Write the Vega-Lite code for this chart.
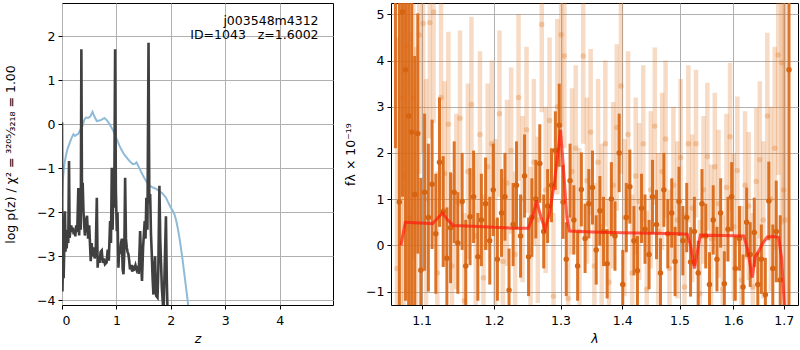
{
  "$schema": "https://vega.github.io/schema/vega-lite/v6.json",
  "padding": {"left": 4, "top": 2, "right": 0, "bottom": 0},
  "background": "white",
  "spacing": 58,
  "bounds": "flush",
  "config": {
    "view": {"stroke": "black", "strokeWidth": 1},
    "axis": {
      "labelFont": "DejaVu Sans", "labelFontSize": 12.5, "labelColor": "black",
      "titleFont": "DejaVu Sans", "titleFontSize": 12.5, "titleFontWeight": "normal", "titleColor": "black",
      "tickColor": "black", "tickSize": 4, "domainColor": "black", "domain": false,
      "gridColor": "#b0b0b0", "gridWidth": 1, "labelPadding": 3
    },
    "axisX": {"labelPadding": 5, "titlePadding": 6}
  },
  "datasets": {
    "pz": [
      {"z": 0.000, "lp": 0.04}, {"z": 0.008, "lp": -3.8}, {"z": 0.018, "lp": -3.1}, {"z": 0.030, "lp": -3.5},
      {"z": 0.045, "lp": -2.6}, {"z": 0.055, "lp": -1.98}, {"z": 0.065, "lp": -2.9}, {"z": 0.075, "lp": -2.4},
      {"z": 0.085, "lp": -2.82}, {"z": 0.100, "lp": -2.5}, {"z": 0.115, "lp": -2.7}, {"z": 0.129, "lp": -0.84},
      {"z": 0.140, "lp": -2.58}, {"z": 0.155, "lp": -2.4}, {"z": 0.170, "lp": -2.3}, {"z": 0.185, "lp": -2.45},
      {"z": 0.200, "lp": -2.35}, {"z": 0.215, "lp": -2.5}, {"z": 0.230, "lp": -2.4}, {"z": 0.245, "lp": -2.55},
      {"z": 0.260, "lp": -2.3}, {"z": 0.280, "lp": -2.45}, {"z": 0.300, "lp": -1.45}, {"z": 0.315, "lp": -2.53},
      {"z": 0.330, "lp": -1.9}, {"z": 0.345, "lp": -2.4}, {"z": 0.356, "lp": 1.70}, {"z": 0.368, "lp": -1.9},
      {"z": 0.380, "lp": -1.33}, {"z": 0.395, "lp": -2.0}, {"z": 0.420, "lp": -2.53}, {"z": 0.440, "lp": -2.2},
      {"z": 0.460, "lp": -2.08}, {"z": 0.480, "lp": -2.6}, {"z": 0.500, "lp": -2.3}, {"z": 0.528, "lp": -3.11},
      {"z": 0.545, "lp": -2.7}, {"z": 0.560, "lp": -3.0}, {"z": 0.577, "lp": -2.8}, {"z": 0.600, "lp": -3.05},
      {"z": 0.620, "lp": -2.9}, {"z": 0.640, "lp": -1.67}, {"z": 0.655, "lp": -3.26}, {"z": 0.670, "lp": -3.0},
      {"z": 0.690, "lp": -3.15}, {"z": 0.710, "lp": -2.9}, {"z": 0.730, "lp": -2.87}, {"z": 0.750, "lp": -3.15},
      {"z": 0.770, "lp": -3.05}, {"z": 0.790, "lp": -3.18}, {"z": 0.820, "lp": -3.14}, {"z": 0.840, "lp": -2.85},
      {"z": 0.860, "lp": -3.1}, {"z": 0.884, "lp": -2.2}, {"z": 0.900, "lp": -2.7}, {"z": 0.915, "lp": -0.99},
      {"z": 0.930, "lp": -2.4}, {"z": 0.945, "lp": -1.3}, {"z": 0.960, "lp": -1.9}, {"z": 0.976, "lp": 1.70},
      {"z": 0.990, "lp": -1.5}, {"z": 1.007, "lp": -2.43}, {"z": 1.020, "lp": -2.0}, {"z": 1.037, "lp": -3.26},
      {"z": 1.052, "lp": -2.8}, {"z": 1.068, "lp": -2.95}, {"z": 1.085, "lp": -2.7}, {"z": 1.100, "lp": -2.6},
      {"z": 1.115, "lp": -3.3}, {"z": 1.130, "lp": -3.41}, {"z": 1.145, "lp": -2.9}, {"z": 1.160, "lp": -1.22},
      {"z": 1.175, "lp": -2.6}, {"z": 1.190, "lp": -2.8}, {"z": 1.205, "lp": -2.9}, {"z": 1.220, "lp": -2.95},
      {"z": 1.235, "lp": -3.1}, {"z": 1.250, "lp": -3.3}, {"z": 1.270, "lp": -3.2}, {"z": 1.290, "lp": -3.35},
      {"z": 1.310, "lp": -3.25}, {"z": 1.330, "lp": -3.28}, {"z": 1.350, "lp": -3.2}, {"z": 1.370, "lp": -3.3},
      {"z": 1.390, "lp": -3.22}, {"z": 1.410, "lp": -3.4}, {"z": 1.436, "lp": -2.43}, {"z": 1.455, "lp": -3.2},
      {"z": 1.470, "lp": -3.56}, {"z": 1.490, "lp": -2.8}, {"z": 1.520, "lp": -2.2}, {"z": 1.535, "lp": -2.6},
      {"z": 1.550, "lp": -1.67}, {"z": 1.570, "lp": -2.4}, {"z": 1.590, "lp": 1.85}, {"z": 1.605, "lp": -1.8},
      {"z": 1.620, "lp": -1.59}, {"z": 1.635, "lp": -2.5}, {"z": 1.650, "lp": -2.95}, {"z": 1.665, "lp": -3.5},
      {"z": 1.680, "lp": -3.87}, {"z": 1.695, "lp": -3.3}, {"z": 1.710, "lp": -3.0}, {"z": 1.730, "lp": -3.9},
      {"z": 1.755, "lp": -3.94}, {"z": 1.770, "lp": -3.3}, {"z": 1.790, "lp": -1.4}, {"z": 1.805, "lp": -2.6},
      {"z": 1.835, "lp": -3.72}, {"z": 1.850, "lp": -4.0}, {"z": 1.865, "lp": -4.3}, {"z": 1.880, "lp": -3.6},
      {"z": 1.910, "lp": -2.09}, {"z": 1.925, "lp": -3.5}, {"z": 1.940, "lp": -4.3}, {"z": 1.960, "lp": -4.5}
    ],
    "chi": [
      {"z": 0.0, "lp": -1.67}, {"z": 0.02, "lp": -1.2}, {"z": 0.045, "lp": -0.9}, {"z": 0.074, "lp": -0.7},
      {"z": 0.105, "lp": -0.55}, {"z": 0.135, "lp": -0.45}, {"z": 0.17, "lp": -0.33}, {"z": 0.21, "lp": -0.23},
      {"z": 0.24, "lp": -0.27}, {"z": 0.27, "lp": -0.24}, {"z": 0.30, "lp": -0.22}, {"z": 0.34, "lp": -0.12},
      {"z": 0.38, "lp": -0.04}, {"z": 0.41, "lp": 0.1}, {"z": 0.44, "lp": 0.15}, {"z": 0.48, "lp": 0.14},
      {"z": 0.52, "lp": 0.17}, {"z": 0.56, "lp": 0.28}, {"z": 0.60, "lp": 0.16}, {"z": 0.64, "lp": 0.07},
      {"z": 0.69, "lp": 0.08}, {"z": 0.73, "lp": 0.1}, {"z": 0.78, "lp": 0.14}, {"z": 0.83, "lp": 0.08},
      {"z": 0.87, "lp": 0.01}, {"z": 0.92, "lp": -0.1}, {"z": 0.96, "lp": -0.2}, {"z": 1.01, "lp": -0.35},
      {"z": 1.06, "lp": -0.5}, {"z": 1.10, "lp": -0.6}, {"z": 1.15, "lp": -0.7}, {"z": 1.20, "lp": -0.78},
      {"z": 1.25, "lp": -0.85}, {"z": 1.30, "lp": -0.91}, {"z": 1.34, "lp": -0.9}, {"z": 1.37, "lp": -0.87},
      {"z": 1.41, "lp": -0.97}, {"z": 1.46, "lp": -1.1}, {"z": 1.51, "lp": -1.22}, {"z": 1.55, "lp": -1.3},
      {"z": 1.60, "lp": -1.39}, {"z": 1.67, "lp": -1.44}, {"z": 1.73, "lp": -1.47}, {"z": 1.79, "lp": -1.52},
      {"z": 1.85, "lp": -1.58}, {"z": 1.91, "lp": -1.67}, {"z": 1.96, "lp": -1.8}, {"z": 2.00, "lp": -1.9},
      {"z": 2.04, "lp": -1.98}, {"z": 2.07, "lp": -2.06}, {"z": 2.10, "lp": -2.2}, {"z": 2.13, "lp": -2.38},
      {"z": 2.16, "lp": -2.6}, {"z": 2.19, "lp": -2.85}, {"z": 2.22, "lp": -3.12}, {"z": 2.25, "lp": -3.42},
      {"z": 2.28, "lp": -3.72}, {"z": 2.31, "lp": -4.02}, {"z": 2.34, "lp": -4.35}
    ],
    "dark": [
      {"lam": 1.066, "f": 6.0, "e": 3.9}, {"lam": 1.071, "f": 0.94, "e": 5.5}, {"lam": 1.075, "f": 5.05, "e": 4.0},
      {"lam": 1.079, "f": 3.8, "e": 5.0}, {"lam": 1.083, "f": 2.8, "e": 4.5}, {"lam": 1.087, "f": 2.45, "e": 3.8},
      {"lam": 1.091, "f": 1.1, "e": 3.0}, {"lam": 1.095, "f": 2.42, "e": 2.6}, {"lam": 1.099, "f": -0.54, "e": 2.0},
      {"lam": 1.104, "f": 1.15, "e": 1.7}, {"lam": 1.109, "f": 0.6, "e": 1.6}, {"lam": 1.114, "f": 1.32, "e": 1.4},
      {"lam": 1.119, "f": 0.25, "e": 1.3}, {"lam": 1.124, "f": 1.8, "e": 1.4}, {"lam": 1.129, "f": 0.73, "e": 1.2},
      {"lam": 1.134, "f": -0.28, "e": 1.1}, {"lam": 1.139, "f": 0.38, "e": 1.2}, {"lam": 1.144, "f": 1.15, "e": 1.1},
      {"lam": 1.149, "f": 0.05, "e": 1.1}, {"lam": 1.155, "f": 0.95, "e": 1.05}, {"lam": 1.160, "f": -0.45, "e": 1.0},
      {"lam": 1.166, "f": 0.62, "e": 1.05}, {"lam": 1.171, "f": 1.05, "e": 1.0}, {"lam": 1.177, "f": -0.25, "e": 0.95},
      {"lam": 1.182, "f": 0.55, "e": 1.0}, {"lam": 1.188, "f": 0.9, "e": 1.0}, {"lam": 1.194, "f": 0.1, "e": 0.95},
      {"lam": 1.199, "f": 1.2, "e": 1.0}, {"lam": 1.205, "f": -0.3, "e": 0.9}, {"lam": 1.211, "f": 0.7, "e": 0.95},
      {"lam": 1.216, "f": 1.05, "e": 0.95}, {"lam": 1.222, "f": -0.97, "e": 0.9}, {"lam": 1.228, "f": 0.45, "e": 0.9},
      {"lam": 1.233, "f": 1.3, "e": 0.95}, {"lam": 1.239, "f": 0.2, "e": 0.9}, {"lam": 1.245, "f": 1.5, "e": 0.9},
      {"lam": 1.251, "f": -0.25, "e": 0.85}, {"lam": 1.256, "f": 0.6, "e": 0.85}, {"lam": 1.262, "f": 1.0, "e": 0.85},
      {"lam": 1.268, "f": 1.77, "e": 0.85}, {"lam": 1.274, "f": 0.3, "e": 0.8}, {"lam": 1.280, "f": 0.85, "e": 0.8},
      {"lam": 1.286, "f": 1.3, "e": 0.8}, {"lam": 1.292, "f": 2.05, "e": 0.85}, {"lam": 1.298, "f": 2.6, "e": 0.9},
      {"lam": 1.304, "f": 0.94, "e": 0.8}, {"lam": 1.309, "f": -0.3, "e": 0.8}, {"lam": 1.315, "f": 1.4, "e": 0.8},
      {"lam": 1.321, "f": 0.55, "e": 0.75}, {"lam": 1.327, "f": -0.45, "e": 0.75}, {"lam": 1.333, "f": 1.21, "e": 0.8},
      {"lam": 1.339, "f": 0.15, "e": 0.75}, {"lam": 1.345, "f": 0.9, "e": 0.75}, {"lam": 1.351, "f": 1.25, "e": 0.8},
      {"lam": 1.357, "f": -0.1, "e": 0.75}, {"lam": 1.363, "f": 0.75, "e": 0.75}, {"lam": 1.369, "f": 0.3, "e": 0.75},
      {"lam": 1.375, "f": -0.4, "e": 0.75}, {"lam": 1.382, "f": 1.0, "e": 0.8}, {"lam": 1.388, "f": 0.2, "e": 0.75},
      {"lam": 1.395, "f": 2.0, "e": 0.85}, {"lam": 1.401, "f": -0.85, "e": 0.75}, {"lam": 1.407, "f": 0.6, "e": 0.75},
      {"lam": 1.413, "f": 1.27, "e": 0.8}, {"lam": 1.420, "f": 0.1, "e": 0.75}, {"lam": 1.426, "f": -0.55, "e": 0.75},
      {"lam": 1.433, "f": 0.8, "e": 0.75}, {"lam": 1.439, "f": 0.35, "e": 0.75}, {"lam": 1.446, "f": -0.2, "e": 0.75},
      {"lam": 1.452, "f": 1.05, "e": 0.8}, {"lam": 1.459, "f": 0.45, "e": 0.75}, {"lam": 1.466, "f": -0.6, "e": 0.75},
      {"lam": 1.472, "f": 1.2, "e": 0.8}, {"lam": 1.479, "f": 0.25, "e": 0.75}, {"lam": 1.486, "f": 0.7, "e": 0.75},
      {"lam": 1.492, "f": -0.35, "e": 0.75}, {"lam": 1.499, "f": 0.95, "e": 0.75}, {"lam": 1.506, "f": 0.1, "e": 0.75},
      {"lam": 1.513, "f": 0.6, "e": 0.75}, {"lam": 1.520, "f": -0.36, "e": 0.75}, {"lam": 1.527, "f": 0.3, "e": 0.75},
      {"lam": 1.534, "f": -0.6, "e": 0.7}, {"lam": 1.541, "f": 0.9, "e": 0.75}, {"lam": 1.548, "f": 0.2, "e": 0.7},
      {"lam": 1.555, "f": -0.85, "e": 0.7}, {"lam": 1.562, "f": 0.55, "e": 0.75}, {"lam": 1.569, "f": -0.3, "e": 0.7},
      {"lam": 1.576, "f": 0.7, "e": 0.75}, {"lam": 1.583, "f": -0.83, "e": 0.7}, {"lam": 1.590, "f": 0.35, "e": 0.7},
      {"lam": 1.597, "f": 1.05, "e": 0.75}, {"lam": 1.604, "f": -0.5, "e": 0.7}, {"lam": 1.612, "f": 0.15, "e": 0.7},
      {"lam": 1.619, "f": -0.9, "e": 0.7}, {"lam": 1.626, "f": 0.5, "e": 0.75}, {"lam": 1.633, "f": -0.2, "e": 0.7},
      {"lam": 1.641, "f": 0.28, "e": 0.75}, {"lam": 1.648, "f": -0.85, "e": 0.7}, {"lam": 1.655, "f": -0.3, "e": 0.75},
      {"lam": 1.663, "f": -1.07, "e": 0.8}, {"lam": 1.670, "f": 0.96, "e": 0.85}, {"lam": 1.678, "f": -0.5, "e": 0.95},
      {"lam": 1.685, "f": 0.3, "e": 1.1}, {"lam": 1.693, "f": -0.75, "e": 1.4}, {"lam": 1.711, "f": 3.8, "e": 6.0}
    ],
    "light": [
      {"lam": 1.068, "f": -0.5, "e": 5.0}, {"lam": 1.073, "f": 3.2, "e": 5.0}, {"lam": 1.077, "f": 1.5, "e": 4.5},
      {"lam": 1.081, "f": 4.3, "e": 4.0}, {"lam": 1.085, "f": 0.6, "e": 4.0}, {"lam": 1.089, "f": 3.2, "e": 3.5},
      {"lam": 1.093, "f": 1.1, "e": 3.2}, {"lam": 1.097, "f": 4.55, "e": 3.0}, {"lam": 1.102, "f": 4.8, "e": 2.8},
      {"lam": 1.106, "f": 1.0, "e": 2.6}, {"lam": 1.111, "f": 4.82, "e": 2.5}, {"lam": 1.116, "f": 5.05, "e": 2.4},
      {"lam": 1.121, "f": -0.6, "e": 2.2}, {"lam": 1.126, "f": 3.2, "e": 2.2}, {"lam": 1.131, "f": 1.55, "e": 2.0},
      {"lam": 1.136, "f": 2.62, "e": 2.0}, {"lam": 1.141, "f": -0.45, "e": 2.0}, {"lam": 1.147, "f": 0.95, "e": 1.9},
      {"lam": 1.152, "f": 2.75, "e": 1.9}, {"lam": 1.158, "f": -1.2, "e": 1.9}, {"lam": 1.163, "f": 1.6, "e": 1.9},
      {"lam": 1.168, "f": 3.05, "e": 1.9}, {"lam": 1.174, "f": 0.2, "e": 1.8}, {"lam": 1.180, "f": 2.4, "e": 1.8},
      {"lam": 1.185, "f": -0.7, "e": 1.8}, {"lam": 1.191, "f": 1.7, "e": 1.8}, {"lam": 1.197, "f": 2.2, "e": 1.8},
      {"lam": 1.202, "f": 0.5, "e": 1.8}, {"lam": 1.208, "f": 2.85, "e": 1.8}, {"lam": 1.213, "f": -0.35, "e": 1.8},
      {"lam": 1.219, "f": 1.35, "e": 1.8}, {"lam": 1.225, "f": 2.05, "e": 1.8}, {"lam": 1.231, "f": -0.2, "e": 1.8},
      {"lam": 1.236, "f": 3.2, "e": 1.8}, {"lam": 1.242, "f": 1.0, "e": 1.8}, {"lam": 1.248, "f": 2.5, "e": 1.8},
      {"lam": 1.254, "f": -0.1, "e": 1.8}, {"lam": 1.259, "f": 1.8, "e": 1.8}, {"lam": 1.265, "f": 0.55, "e": 1.8},
      {"lam": 1.271, "f": 4.78, "e": 1.9}, {"lam": 1.277, "f": 1.2, "e": 1.8}, {"lam": 1.283, "f": 2.7, "e": 1.8},
      {"lam": 1.289, "f": -1.1, "e": 1.8}, {"lam": 1.295, "f": 3.0, "e": 1.9}, {"lam": 1.301, "f": 4.56, "e": 2.0},
      {"lam": 1.306, "f": 4.1, "e": 2.0}, {"lam": 1.312, "f": -1.15, "e": 1.8}, {"lam": 1.318, "f": 1.6, "e": 1.8},
      {"lam": 1.324, "f": 2.1, "e": 1.8}, {"lam": 1.330, "f": 0.3, "e": 1.8}, {"lam": 1.336, "f": 4.1, "e": 1.9},
      {"lam": 1.342, "f": 1.4, "e": 1.8}, {"lam": 1.348, "f": 2.45, "e": 1.8}, {"lam": 1.354, "f": -0.45, "e": 1.8},
      {"lam": 1.360, "f": 1.8, "e": 1.8}, {"lam": 1.366, "f": 0.4, "e": 1.8}, {"lam": 1.372, "f": 2.2, "e": 1.8},
      {"lam": 1.378, "f": -0.8, "e": 1.8}, {"lam": 1.385, "f": 1.3, "e": 1.8}, {"lam": 1.391, "f": 2.55, "e": 1.8},
      {"lam": 1.398, "f": 3.45, "e": 1.9}, {"lam": 1.404, "f": 0.6, "e": 1.7}, {"lam": 1.410, "f": 2.4, "e": 1.8},
      {"lam": 1.417, "f": -0.6, "e": 1.7}, {"lam": 1.423, "f": 1.5, "e": 1.7}, {"lam": 1.429, "f": 0.95, "e": 1.7},
      {"lam": 1.436, "f": 2.2, "e": 1.7}, {"lam": 1.442, "f": -0.95, "e": 1.7}, {"lam": 1.449, "f": 1.2, "e": 1.7},
      {"lam": 1.456, "f": 2.58, "e": 1.7}, {"lam": 1.462, "f": 0.3, "e": 1.7}, {"lam": 1.469, "f": 1.6, "e": 1.7},
      {"lam": 1.475, "f": 2.3, "e": 1.7}, {"lam": 1.482, "f": -0.5, "e": 1.7}, {"lam": 1.489, "f": 1.3, "e": 1.7},
      {"lam": 1.496, "f": 0.55, "e": 1.7}, {"lam": 1.502, "f": 1.9, "e": 1.7}, {"lam": 1.509, "f": -0.9, "e": 1.6},
      {"lam": 1.516, "f": 2.2, "e": 1.7}, {"lam": 1.523, "f": 0.8, "e": 1.6}, {"lam": 1.530, "f": 2.2, "e": 1.6},
      {"lam": 1.537, "f": -1.05, "e": 1.6}, {"lam": 1.544, "f": 1.2, "e": 1.6}, {"lam": 1.551, "f": 1.92, "e": 1.6},
      {"lam": 1.558, "f": 0.15, "e": 1.6}, {"lam": 1.565, "f": 1.7, "e": 1.6}, {"lam": 1.572, "f": 0.9, "e": 1.6},
      {"lam": 1.580, "f": -0.95, "e": 1.6}, {"lam": 1.587, "f": 1.25, "e": 1.6}, {"lam": 1.594, "f": 2.35, "e": 1.6},
      {"lam": 1.601, "f": 0.4, "e": 1.6}, {"lam": 1.608, "f": 1.62, "e": 1.6}, {"lam": 1.616, "f": -0.75, "e": 1.6},
      {"lam": 1.623, "f": 1.3, "e": 1.6}, {"lam": 1.630, "f": 0.85, "e": 1.6}, {"lam": 1.638, "f": -0.9, "e": 1.6},
      {"lam": 1.645, "f": 1.38, "e": 1.6}, {"lam": 1.652, "f": 1.85, "e": 1.7}, {"lam": 1.659, "f": 0.55, "e": 1.7},
      {"lam": 1.667, "f": 2.8, "e": 1.8}, {"lam": 1.674, "f": 1.0, "e": 2.0}, {"lam": 1.682, "f": 2.1, "e": 2.2},
      {"lam": 1.689, "f": 4.12, "e": 2.6}, {"lam": 1.696, "f": 3.95, "e": 3.5}, {"lam": 1.700, "f": 1.2, "e": 6.0},
      {"lam": 1.703, "f": 0.55, "e": 6.0}
    ],
    "model": [
      {"lam": 1.073, "f": 0.0}, {"lam": 1.0787, "f": 0.5}, {"lam": 1.09, "f": 0.49}, {"lam": 1.105, "f": 0.48},
      {"lam": 1.1146, "f": 0.47}, {"lam": 1.121, "f": 0.58}, {"lam": 1.1281, "f": 0.7}, {"lam": 1.135, "f": 0.55},
      {"lam": 1.1428, "f": 0.43}, {"lam": 1.17, "f": 0.41}, {"lam": 1.2, "f": 0.39}, {"lam": 1.23, "f": 0.37},
      {"lam": 1.2508, "f": 0.37}, {"lam": 1.257, "f": 0.6}, {"lam": 1.263, "f": 0.97}, {"lam": 1.27, "f": 0.6},
      {"lam": 1.276, "f": 0.35}, {"lam": 1.283, "f": 0.7}, {"lam": 1.29, "f": 1.3}, {"lam": 1.296, "f": 2.0},
      {"lam": 1.300, "f": 2.5}, {"lam": 1.305, "f": 1.6}, {"lam": 1.31, "f": 0.6}, {"lam": 1.314, "f": 0.31},
      {"lam": 1.35, "f": 0.29}, {"lam": 1.40, "f": 0.27}, {"lam": 1.45, "f": 0.26}, {"lam": 1.50, "f": 0.25},
      {"lam": 1.514, "f": 0.24}, {"lam": 1.52, "f": 0.0}, {"lam": 1.527, "f": -0.5}, {"lam": 1.533, "f": -0.1},
      {"lam": 1.538, "f": 0.22}, {"lam": 1.58, "f": 0.21}, {"lam": 1.6205, "f": 0.2}, {"lam": 1.628, "f": -0.1},
      {"lam": 1.637, "f": -0.7}, {"lam": 1.643, "f": -0.25}, {"lam": 1.651, "f": -0.1}, {"lam": 1.658, "f": 0.05},
      {"lam": 1.667, "f": 0.18}, {"lam": 1.68, "f": 0.19}, {"lam": 1.690, "f": 0.17}, {"lam": 1.696, "f": -0.3},
      {"lam": 1.702, "f": -1.4}
    ]
  },
  "hconcat": [
    {
      "width": 271,
      "height": 302,
      "layer": [
        {
          "data": {"name": "chi"},
          "mark": {"type": "line", "color": "#8fbbd9", "strokeWidth": 2, "clip": true},
          "encoding": {
            "x": {"field": "z", "type": "quantitative", "scale": {"domain": [0, 4.98], "nice": false, "zero": false},
                  "axis": {"values": [0, 1, 2, 3, 4], "title": "z", "titleFontStyle": "italic", "grid": true}},
            "y": {"field": "lp", "type": "quantitative", "scale": {"domain": [-4.107, 2.75], "nice": false, "zero": false},
                  "axis": {"values": [-4, -3, -2, -1, 0, 1, 2], "title": "log p(z) / χ² = ³²⁰⁵⁄₃₂₁₈ = 1.00", "grid": true, "titlePadding": 19}}
          }
        },
        {
          "data": {"name": "pz"},
          "mark": {"type": "line", "color": "#404040", "strokeWidth": 2.6, "clip": true},
          "encoding": {
            "x": {"field": "z", "type": "quantitative"},
            "y": {"field": "lp", "type": "quantitative"}
          }
        },
        {
          "data": {"values": [{"t": "j003548m4312", "z": 4.715, "lp": 2.34}, {"t": "ID=1043\u00a0\u00a0\u00a0z=1.6002", "z": 4.715, "lp": 2.02}]},
          "mark": {"type": "text", "align": "right", "baseline": "middle", "font": "DejaVu Sans", "fontSize": 12.5, "color": "black"},
          "encoding": {
            "x": {"field": "z", "type": "quantitative"},
            "y": {"field": "lp", "type": "quantitative"},
            "text": {"field": "t"}
          }
        }
      ]
    },
    {
      "width": 407,
      "height": 302,
      "layer": [
        {
          "data": {"name": "light"},
          "mark": {"type": "errorbar", "color": "#e0741f", "opacity": 0.26, "thickness": 4.5, "clip": true},
          "encoding": {
            "x": {"field": "lam", "type": "quantitative", "scale": {"type": "log", "domain": [1.0603, 1.7296], "nice": false},
                  "axis": {"values": [1.1, 1.2, 1.3, 1.4, 1.5, 1.6, 1.7], "format": ".1f", "title": "λ", "titleFontStyle": "italic", "grid": true}},
            "y": {"field": "f", "type": "quantitative", "scale": {"domain": [-1.292, 5.245], "nice": false, "zero": false},
                  "axis": {"values": [-1, 0, 1, 2, 3, 4, 5], "title": "fλ × 10⁻¹⁹", "grid": true, "titlePadding": 8}},
            "yError": {"field": "e"}
          }
        },
        {
          "data": {"name": "light"},
          "mark": {"type": "point", "filled": true, "shape": "circle", "size": 30, "color": "#e0741f", "opacity": 0.3, "clip": true},
          "encoding": {
            "x": {"field": "lam", "type": "quantitative"},
            "y": {"field": "f", "type": "quantitative", "title": "fλ × 10⁻¹⁹"}
          }
        },
        {
          "data": {"name": "dark"},
          "mark": {"type": "errorbar", "color": "#da6816", "opacity": 0.92, "thickness": 3, "clip": true},
          "encoding": {
            "x": {"field": "lam", "type": "quantitative"},
            "y": {"field": "f", "type": "quantitative", "title": "fλ × 10⁻¹⁹"},
            "yError": {"field": "e"}
          }
        },
        {
          "data": {"name": "dark"},
          "mark": {"type": "point", "filled": true, "shape": "circle", "size": 30, "color": "#d66410", "opacity": 1, "clip": true},
          "encoding": {
            "x": {"field": "lam", "type": "quantitative"},
            "y": {"field": "f", "type": "quantitative", "title": "fλ × 10⁻¹⁹"}
          }
        },
        {
          "data": {"name": "model"},
          "mark": {"type": "line", "color": "#ff1a0a", "opacity": 0.7, "strokeWidth": 3, "clip": true},
          "encoding": {
            "x": {"field": "lam", "type": "quantitative"},
            "y": {"field": "f", "type": "quantitative", "title": "fλ × 10⁻¹⁹"}
          }
        },
        {
          "mark": {"type": "rule", "color": "black", "strokeWidth": 1.6, "strokeDash": [2, 3]},
          "encoding": {"y": {"datum": 0}}
        },
        {
          "mark": {"type": "text", "fontSize": 7, "font": "DejaVu Sans", "color": "black", "align": "center", "baseline": "middle"},
          "encoding": {
            "x": {"datum": 1.6147},
            "y": {"datum": -2.07},
            "text": {"value": "Thu Apr 23 15:41:26 2020"}
          }
        }
      ]
    }
  ]
}
